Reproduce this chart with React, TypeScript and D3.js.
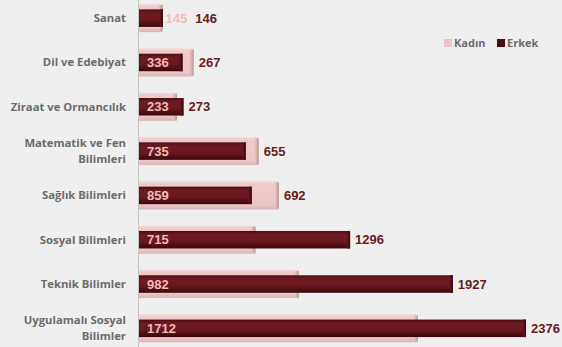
import React from "react";
import * as d3 from "d3";

const categories = [
  "Sanat",
  "Dil ve Edebiyat",
  "Ziraat ve Ormancılık",
  "Matematik ve Fen|Bilimleri",
  "Sağlık Bilimleri",
  "Sosyal Bilimleri",
  "Teknik Bilimler",
  "Uygulamalı Sosyal|Bilimler",
];
const kadin = [145, 336, 233, 735, 859, 715, 982, 1712];
const erkek = [146, 267, 273, 655, 692, 1296, 1927, 2376];
const seriesNames = ["Kadın", "Erkek"];

const W = 562;
const H = 347;

export default function App() {
  const x = d3.scaleLinear().domain([0, 2376]).range([139, 526]);
  const y = d3
    .scaleBand<number>()
    .domain(d3.range(categories.length))
    .range([-4, 350.5])
    .paddingInner(0)
    .paddingOuter(0);
  const bw = y.bandwidth();
  const kH = 28;
  const eH = 17.5;
  const x0 = x(0);
  const labelFont = "'Liberation Sans', Arial, sans-serif";
  const catFont = "'Open Sans', sans-serif";

  return (
    <svg
      width={W}
      height={H}
      style={{ position: "absolute", left: 0, top: 0, background: "#efefef" }}
    >
      <defs>
        <linearGradient id="kV" x1="0" y1="0" x2="0" y2="1">
          <stop offset="0" stopColor="#f3d6d6" />
          <stop offset="0.12" stopColor="#eecaca" />
          <stop offset="0.85" stopColor="#ebc6c6" />
          <stop offset="1" stopColor="#d9b4b4" />
        </linearGradient>
        <linearGradient id="kEnd" x1="0" y1="0" x2="1" y2="0">
          <stop offset="0" stopColor="#eac6c6" />
          <stop offset="1" stopColor="#b89a9a" />
        </linearGradient>
        <linearGradient id="eV" x1="0" y1="0" x2="0" y2="1">
          <stop offset="0" stopColor="#4a0c12" />
          <stop offset="0.2" stopColor="#6e1a22" />
          <stop offset="0.6" stopColor="#6a1820" />
          <stop offset="1" stopColor="#3a070b" />
        </linearGradient>
        <linearGradient id="eEnd" x1="0" y1="0" x2="1" y2="0">
          <stop offset="0" stopColor="#6a1820" />
          <stop offset="1" stopColor="#2e0508" />
        </linearGradient>
      </defs>
      <rect x={0} y={0} width={W} height={H} fill="#efefef" />

      {categories.map((c, i) => {
        const cy = (y(i) as number) + bw / 2;
        const kx = x(kadin[i]);
        const ex = x(erkek[i]);
        const lines = c.split("|");
        const kInside = kx - x0 > 30;
        const kLabelX = kInside ? x0 + 8 : kx + 3;
        const kLabelW = String(kadin[i]).length * 7.2;
        const eLabelX = Math.max(
          Math.max(kx, ex) + 5,
          kInside ? 0 : kLabelX + kLabelW + 8
        );
        return (
          <g key={c}>
            {lines.map((l, j) => (
              <text
                key={j}
                x={126}
                y={cy + (j - (lines.length - 1) / 2) * 16}
                dy="0.35em"
                textAnchor="end"
                fontFamily={catFont}
                fontWeight={700}
                fontSize={11.3}
                fill="#6b6b6b"
              >
                {l}
              </text>
            ))}
            {/* Kadın bar */}
            <rect x={x0} y={cy - kH / 2} width={kx - x0} height={kH} fill="url(#kV)" />
            <rect
              x={Math.max(x0, kx - 4)}
              y={cy - kH / 2 + 1}
              width={Math.min(4, kx - x0)}
              height={kH - 2}
              fill="url(#kEnd)"
            />
            {/* Erkek bar */}
            <rect x={x0} y={cy - eH / 2} width={ex - x0} height={eH} fill="url(#eV)" />
            <rect
              x={Math.max(x0, ex - 3)}
              y={cy - eH / 2}
              width={Math.min(3, ex - x0)}
              height={eH}
              fill="url(#eEnd)"
            />
            <text
              x={kLabelX}
              y={cy}
              dy="0.36em"
              fontFamily={labelFont}
              fontSize={13}
              fontWeight={700}
              fill="#efbcbc"
            >
              {kadin[i]}
            </text>
            <text
              x={eLabelX}
              y={cy}
              dy="0.36em"
              fontFamily={labelFont}
              fontSize={13}
              fontWeight={700}
              fill="#6a1a22"
            >
              {erkek[i]}
            </text>
          </g>
        );
      })}

      <line x1={138.5} x2={138.5} y1={0} y2={H} stroke="#c4c4c4" strokeWidth={1} />

      {/* Legend */}
      {seriesNames.map((s, i) => {
        const lx = i === 0 ? 444 : 497;
        return (
          <g key={s}>
            <rect
              x={lx}
              y={39}
              width={8}
              height={8}
              fill={i === 0 ? "#e8c4c4" : "#4a0c12"}
            />
            <text
              x={lx + 10}
              y={43}
              dy="0.35em"
              fontFamily={catFont}
              fontWeight={700}
              fontSize={11}
              fill="#6b6b6b"
            >
              {s}
            </text>
          </g>
        );
      })}
    </svg>
  );
}
